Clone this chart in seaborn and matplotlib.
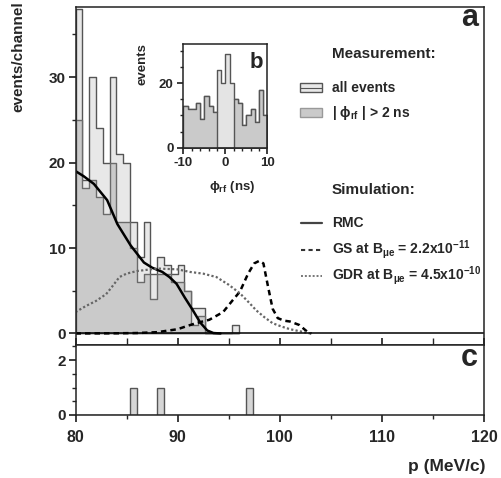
import numpy as np
import pandas as pd
import matplotlib
matplotlib.use("Agg")
import matplotlib.pyplot as plt
import seaborn as sns
from matplotlib.patches import Rectangle
from matplotlib.lines import Line2D

# ---------------- data ----------------
channel_width = 2.0 / 3.0
p_start = 80.0
# main histogram (channels of 2/3 MeV/c starting at 80 MeV/c)
all_events = [38, 18, 30, 24, 20, 30, 21, 20, 13, 9, 13, 7, 9, 8, 7, 8, 5, 3, 3, 0, 0, 0, 0, 1]
phi_cut = [25, 17, 18, 16, 14, 20, 13, 13, 10, 6, 7, 4, 7, 7, 6, 6, 5, 1, 2, 0, 0, 0, 0, 0]

# panel c events (channel centres)
c_p = [85.67, 88.33, 97.0]
c_n = [1, 1, 1]

# inset b: phi_rf distribution, 1 ns bins from -10 to 10
phi_counts = [13, 12, 12, 14, 9, 16, 13, 11, 24, 20, 29, 20, 15, 14, 7, 10, 12, 8, 18, 10]

# simulations
rmc_p = [80.0, 80.8, 81.8, 83.1, 84.1, 85.4, 86.7, 87.5, 88.5, 89.2, 89.9, 90.7, 91.5, 92.2, 92.9, 93.5, 94.2]
rmc_y = [19.0, 18.4, 17.5, 15.6, 12.8, 10.3, 8.3, 7.7, 7.2, 6.6, 5.8, 4.2, 2.7, 1.3, 0.35, 0.05, 0.0]

gs_p = [80.0, 84.0, 86.0, 88.0, 90.0, 91.0, 91.8, 93.1, 94.45, 95.4, 96.1, 96.9, 97.5, 98.0, 98.4,
        98.85, 99.3, 99.8, 100.4, 101.0, 101.9, 102.4, 102.8, 103.1]
gs_y = [0.0, 0.02, 0.05, 0.15, 0.5, 0.9, 1.2, 1.6, 2.5, 3.9, 4.9, 7.0, 8.2, 8.5, 8.2,
        5.5, 2.9, 1.8, 1.5, 1.4, 1.0, 0.5, 0.1, 0.0]

gdr_p = [80.0, 81.0, 82.0, 83.0, 83.6, 84.3, 85.0, 86.0, 88.0, 90.0, 91.2, 92.5, 93.8, 95.0, 96.1,
         97.0, 97.7, 98.5, 99.3, 100.2, 101.0, 102.0, 102.6, 103.0]
gdr_y = [2.5, 3.2, 3.8, 4.6, 5.5, 6.6, 7.0, 7.3, 7.6, 7.5, 7.2, 7.0, 6.6, 5.7, 4.7,
         3.6, 2.7, 1.9, 1.2, 0.8, 0.5, 0.25, 0.1, 0.0]

# ---------------- style ----------------
sns.set_theme(style="ticks")
plt.rcParams["font.family"] = ["Liberation Sans", "DejaVu Sans"]
plt.rcParams["font.weight"] = "bold"
plt.rcParams["mathtext.fontset"] = "custom"
plt.rcParams["mathtext.rm"] = "Liberation Sans:bold"
plt.rcParams["mathtext.it"] = "Liberation Sans:bold"
plt.rcParams["mathtext.bf"] = "Liberation Sans:bold"
plt.rcParams["axes.unicode_minus"] = False
plt.rcParams["axes.linewidth"] = 1.1
plt.rcParams["axes.edgecolor"] = "#222222"

W, H = 501, 478
fig = plt.figure(figsize=(W / 100, H / 100), dpi=100)

def fx(px):
    return px / W

def fy(py):
    return 1 - py / H

L, R = 75.5, 484.0
ax_a = fig.add_axes([fx(L), fy(345), fx(R) - fx(L), fy(7) - fy(345)])
ax_c = fig.add_axes([fx(L), fy(415), fx(R) - fx(L), fy(345) - fy(415)])

edges = p_start + channel_width * np.arange(len(all_events) + 1)
centers = (edges[:-1] + edges[1:]) / 2
main_df = pd.DataFrame({"p": centers, "all": all_events, "cut": phi_cut})

light = "#e8e8e8"
mid = "#cacaca"
edge = "#555555"

sns.histplot(data=main_df, x="p", weights="all", bins=list(edges), element="step", fill=True,
             color=light, edgecolor=edge, linewidth=1.0, alpha=1, ax=ax_a)
sns.histplot(data=main_df, x="p", weights="cut", bins=list(edges), element="step", fill=True,
             color=mid, edgecolor="#6a6a6a", linewidth=1.0, alpha=1, ax=ax_a)

sns.lineplot(x=rmc_p, y=rmc_y, color="black", linewidth=1.8, ax=ax_a)
sns.lineplot(x=gs_p, y=gs_y, color="black", linewidth=1.8, ax=ax_a, linestyle=(0, (2.2, 1.6)))
sns.lineplot(x=gdr_p, y=gdr_y, color="#666666", linewidth=1.6, ax=ax_a, linestyle=(0, (1, 1)))
ax_a.axhline(0, color="black", linewidth=1.1)

ax_a.set_xlim(80, 120)
ax_a.set_ylim(-1.35, 38.2)
ax_a.set_xlabel("")
ax_a.set_ylabel("")
ax_a.set_yticks([0, 10, 20, 30])
ax_a.set_yticks([5, 15, 25, 35], minor=True)
ax_a.set_xticks([80, 90, 100, 110, 120])
ax_a.set_xticks([85, 95, 105, 115], minor=True)
ax_a.tick_params(axis="x", which="both", direction="in", labelbottom=False, length=5)
ax_a.tick_params(axis="y", which="major", direction="out", length=5, labelsize=11, pad=2)
ax_a.tick_params(axis="y", which="minor", direction="out", length=3)
for s in ax_a.spines.values():
    s.set_visible(True)

# panel c
c_df = pd.DataFrame({"p": c_p, "n": c_n})
c_edges = list(p_start + channel_width * np.arange(28))
sns.histplot(data=c_df, x="p", weights="n", bins=c_edges, element="bars",
             fill=True, color="#d6d6d6", edgecolor=edge, linewidth=1.0, alpha=1, ax=ax_c)
ax_c.set_xlim(80, 120)
ax_c.set_ylim(0, 2.55)
ax_c.set_xlabel("")
ax_c.set_ylabel("")
ax_c.set_yticks([0, 2])
ax_c.set_yticks([0.5, 1, 1.5, 2.5], minor=True)
ax_c.set_xticks([80, 90, 100, 110, 120])
ax_c.set_xticks([85, 95, 105, 115], minor=True)
ax_c.tick_params(axis="x", which="major", direction="out", length=5, labelsize=11.5, pad=6)
ax_c.tick_params(axis="y", which="major", direction="out", length=5, labelsize=11, pad=2)
ax_c.tick_params(axis="both", which="minor", direction="out", length=3)
for s in ax_c.spines.values():
    s.set_visible(True)
for lab in ax_c.get_xticklabels() + ax_c.get_yticklabels() + ax_a.get_yticklabels():
    lab.set_fontweight("bold")

# inset b
ax_b = fig.add_axes([fx(183.3), fy(147.7), fx(267.3) - fx(183.3), fy(44) - fy(147.7)])
b_edges = list(np.arange(-10, 11, 1.0))
b_centers = np.arange(-9.5, 10, 1.0)
inner = np.abs(b_centers) < 2
b_df = pd.DataFrame({"t": b_centers, "n": phi_counts,
                     "out": np.where(inner, 0, phi_counts)})
sns.histplot(data=b_df, x="t", weights="n", bins=b_edges, element="step", fill=True,
             color="#e4e4e4", edgecolor=edge, linewidth=1.0, alpha=1, ax=ax_b)
sns.histplot(data=b_df, x="t", weights="out", bins=b_edges, element="step", fill=True,
             color=mid, edgecolor=edge, linewidth=1.0, alpha=1, ax=ax_b)
ax_b.set_xlim(-10, 10)
ax_b.set_ylim(0, 32.2)
ax_b.set_xlabel("")
ax_b.set_ylabel("")
ax_b.set_xticks([-10, 0, 10])
ax_b.set_xticks(np.arange(-8, 10, 2), minor=True)
ax_b.set_yticks([0, 20])
ax_b.set_yticks([5, 10, 15, 25, 30], minor=True)
ax_b.tick_params(axis="both", which="major", direction="out", length=4, labelsize=9.5, pad=3)
ax_b.tick_params(axis="both", which="minor", direction="out", length=2.5)
for s in ax_b.spines.values():
    s.set_visible(True)
for lab in ax_b.get_xticklabels() + ax_b.get_yticklabels():
    lab.set_fontweight("bold")

# text labels
fig.text(fx(18), fy(57), "events/channel", rotation=90, ha="center", va="center",
         fontsize=11, fontweight="bold")
fig.text(fx(485), fy(467), "p (MeV/c)", ha="right", va="center", fontsize=12.5, fontweight="bold")
fig.text(fx(478), fy(18), "a", ha="right", va="center", fontsize=22, fontweight="bold")
fig.text(fx(478), fy(358), "c", ha="right", va="center", fontsize=22, fontweight="bold")
fig.text(fx(263), fy(63), "b", ha="right", va="center", fontsize=16, fontweight="bold")
fig.text(fx(142), fy(64), "events", rotation=90, ha="center", va="center", fontsize=9.5,
         fontweight="bold")
fig.text(fx(232), fy(187), r"$\phi_{rf}$ (ns)", ha="center", va="center", fontsize=9.5,
         fontweight="bold")

# legend (drawn by hand)
tx = 332
fig.text(fx(tx), fy(54), "Measurement:", ha="left", va="center", fontsize=11, fontweight="bold")
fig.text(fx(tx), fy(88), "all events", ha="left", va="center", fontsize=10, fontweight="bold")
fig.text(fx(tx), fy(113), r"| $\phi_{rf}$ | > 2 ns", ha="left", va="center", fontsize=10,
         fontweight="bold")
fig.text(fx(tx), fy(190), "Simulation:", ha="left", va="center", fontsize=11, fontweight="bold")
fig.text(fx(tx), fy(223), "RMC", ha="left", va="center", fontsize=10, fontweight="bold")
fig.text(fx(tx), fy(250), r"GS at B$_{\mu e}$ = 2.2x10$^{-11}$", ha="left", va="center",
         fontsize=10, fontweight="bold")
fig.text(fx(tx), fy(276), r"GDR at B$_{\mu e}$ = 4.5x10$^{-10}$", ha="left", va="center",
         fontsize=10, fontweight="bold")

fig.add_artist(Rectangle((fx(300), fy(92)), fx(322) - fx(300), fy(83) - fy(92),
                         transform=fig.transFigure, facecolor=light, edgecolor=edge, linewidth=1.0))
fig.add_artist(Line2D([fx(300), fx(322)], [fy(87.5), fy(87.5)], transform=fig.transFigure,
                      color=edge, linewidth=0.8))
fig.add_artist(Rectangle((fx(300), fy(117)), fx(322) - fx(300), fy(108) - fy(117),
                         transform=fig.transFigure, facecolor=mid, edgecolor="#999999", linewidth=1.0))
fig.add_artist(Line2D([fx(301), fx(322)], [fy(223), fy(223)], transform=fig.transFigure,
                      color="#444444", linewidth=1.6))
fig.add_artist(Line2D([fx(301), fx(322)], [fy(250), fy(250)], transform=fig.transFigure,
                      color="#333333", linewidth=1.5, linestyle=(0, (2, 1.6))))
fig.add_artist(Line2D([fx(301), fx(322)], [fy(276), fy(276)], transform=fig.transFigure,
                      color="#777777", linewidth=1.4, linestyle=(0, (1, 1))))

fig.savefig("out.png", dpi=100, facecolor="white")
